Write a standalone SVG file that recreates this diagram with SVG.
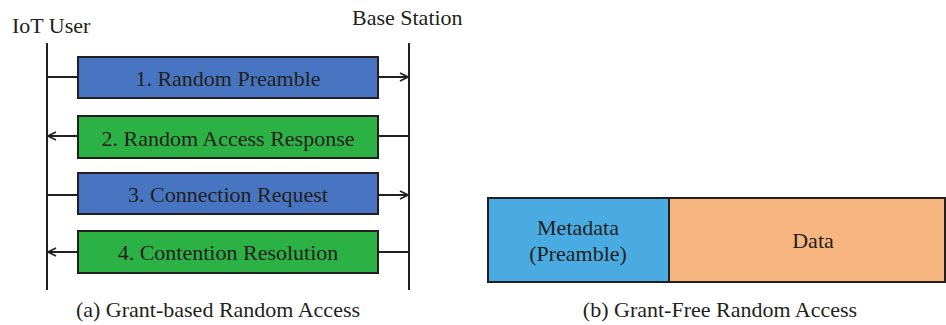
<svg xmlns="http://www.w3.org/2000/svg" width="946" height="325" viewBox="0 0 946 325">
<defs>
<marker id="ah" markerWidth="10" markerHeight="10" refX="9" refY="5" orient="auto" markerUnits="userSpaceOnUse">
<path d="M1,1 L9,5 L1,9" fill="none" stroke="#231f20" stroke-width="1.6"/>
</marker>
<style>
text{font-family:"Liberation Serif","Times New Roman",serif;fill:#231f20;font-size:22px}
.c{text-anchor:middle}
.box{stroke:#231f20;stroke-width:2}
.ln{stroke:#231f20;stroke-width:2;fill:none}
.blue{fill:#4875c1}
.green{fill:#2bb144}
</style>
</defs>
<rect width="946" height="325" fill="#fff"/>
<g id="lifelines">
<line class="ln" x1="47" y1="43" x2="47" y2="290"/>
<line class="ln" x1="409" y1="43" x2="409" y2="290"/>
<text x="12" y="33">IoT User</text>
<text x="352" y="25">Base Station</text>
</g>
<g id="connectors">
<line class="ln" x1="47" y1="77" x2="78" y2="77"/>
<line class="ln" x1="378" y1="77" x2="408" y2="77" marker-end="url(#ah)"/>
<line class="ln" x1="409" y1="136" x2="378" y2="136"/>
<line class="ln" x1="78" y1="136" x2="48" y2="136" marker-end="url(#ah)"/>
<line class="ln" x1="47" y1="195" x2="78" y2="195"/>
<line class="ln" x1="378" y1="195" x2="408" y2="195" marker-end="url(#ah)"/>
<line class="ln" x1="409" y1="252" x2="378" y2="252"/>
<line class="ln" x1="78" y1="252" x2="48" y2="252" marker-end="url(#ah)"/>
</g>
<g id="msg1"><rect class="box blue" x="78" y="57" width="300" height="41"/><text class="c" x="228" y="86">1. Random Preamble</text></g>
<g id="msg2"><rect class="box green" x="78" y="116" width="300" height="42"/><text class="c" x="228" y="146">2. Random Access Response</text></g>
<g id="msg3"><rect class="box blue" x="78" y="173" width="300" height="41"/><text class="c" x="228" y="202">3. Connection Request</text></g>
<g id="msg4"><rect class="box green" x="78" y="231" width="300" height="42"/><text class="c" x="228" y="260">4. Contention Resolution</text></g>
<text class="c" x="218" y="317">(a) Grant-based Random Access</text>
<g id="metadata"><rect class="box" x="488" y="198" width="181" height="84" fill="#4aabe2"/><text class="c" x="578" y="235">Metadata</text><text class="c" x="578" y="261">(Preamble)</text></g>
<g id="data"><rect class="box" x="669" y="198" width="276" height="84" fill="#f7b57f"/><text class="c" x="813" y="248">Data</text></g>
<text class="c" x="720" y="317">(b) Grant-Free Random Access</text>
</svg>
